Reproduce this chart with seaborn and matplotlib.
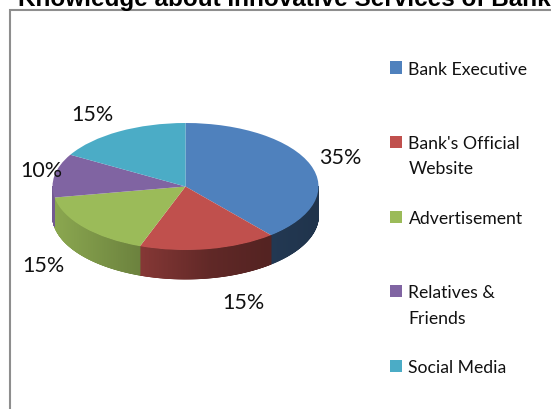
import textwrap

import numpy as np
import matplotlib
matplotlib.use("Agg")
import matplotlib.pyplot as plt
from matplotlib.collections import PolyCollection
from matplotlib.colors import to_rgb
from matplotlib.patches import Rectangle
import seaborn as sns

# ---- data -------------------------------------------------------------
title = "Knowledge about Innovative Services of Banks"
categories = ["Bank Executive", "Bank's Official Website", "Advertisement",
              "Relatives & Friends", "Social Media"]
shares = [35, 15, 15, 10, 15]
palette = ["#4f81bd", "#c0504d", "#9bbb59", "#8064a2", "#4bacc6"]

# ---- style ------------------------------------------------------------
sns.set_theme(style="white")
plt.rcParams["font.family"] = ["Lato", "DejaVu Sans"]

W, H = 551, 410
fig = plt.figure(figsize=(W / 100, H / 100), dpi=100)
fig.patch.set_facecolor("white")

# disc geometry in pixels (centre, radii of the top ellipse, rim depth)
cx, cy, rx, ry, depth = 185.5, 187.5, 133.0, 63.5, 29.0

ax = fig.add_axes([0, 0, 1, 1])
wedges, texts = ax.pie(
    shares,
    labels=[f"{v}%" for v in shares],
    colors=palette,
    startangle=90,
    counterclock=False,
    wedgeprops=dict(linewidth=0, zorder=3),
    textprops=dict(fontsize=15.5, color="#111111", zorder=5),
)
# unit circle squashed into the ellipse by the axis limits
ax.set_aspect("auto")
ax.set_xlim(-cx / rx, (W - cx) / rx)
ax.set_ylim((cy - H) / ry, cy / ry)
ax.axis("off")

# ---- rim of the disc: thin shaded strips along the front half ---------
d = depth / ry


def shade(c):
    return np.interp(c, [-1, -0.35, 0.2, 0.6, 1], [0.9, 0.7, 0.5, 0.44, 0.4])


verts, cols = [], []
for w, base in zip(wedges, palette):
    rgb = np.array(to_rgb(base))
    t = np.radians(np.linspace(w.theta1, w.theta2, 300))
    for a0, a1 in zip(t[:-1], t[1:]):
        m = 0.5 * (a0 + a1)
        if np.sin(m) >= 0:
            continue
        x0, y0, x1, y1 = np.cos(a0), np.sin(a0), np.cos(a1), np.sin(a1)
        verts.append([(x0, y0), (x1, y1), (x1, y1 - d), (x0, y0 - d)])
        cols.append(np.clip(rgb * shade(np.cos(m)), 0, 1))
rim = PolyCollection(verts, facecolors=cols, edgecolors=cols, linewidths=0.6,
                     zorder=2)
ax.add_collection(rim)

# ---- percentage labels placed around the disc (pixel centres) ----------
label_px = [(340, 158.5), (243, 303.5), (43.5, 265.5), (41.5, 171), (92.5, 115)]
for txt, (px, py) in zip(texts, label_px):
    txt.set_position(((px - cx) / rx, (cy - py) / ry))
    txt.set_ha("center")
    txt.set_va("center")

# ---- legend -----------------------------------------------------------
leg_top, leg_step, line_step = 68.5, 74.5, 25.0
for i, (name, col) in enumerate(zip(categories, palette)):
    y = leg_top + i * leg_step
    fig.add_artist(Rectangle((390 / W, 1 - (y + 6) / H), 12 / W, 12 / H,
                             transform=fig.transFigure, facecolor=col,
                             edgecolor="none"))
    for j, line in enumerate(textwrap.wrap(name, 15)):
        fig.text(408.5 / W, 1 - (y + j * line_step) / H, line,
                 fontsize=12.7, color="#111111", ha="left",
                 va="center_baseline")

# ---- chart frame and title -------------------------------------------
fig.add_artist(Rectangle((10 / W, -0.1), 1.2, 1.1 - 10.5 / H,
                         transform=fig.transFigure, fill=False,
                         edgecolor="#8e8e8e", linewidth=1.5))
fig.text(18 / W, 1 - 6 / H, title, fontsize=17.5, fontweight="bold",
         family="Liberation Sans", color="black", ha="left", va="baseline")

fig.savefig("out.png", dpi=100, facecolor="white")
